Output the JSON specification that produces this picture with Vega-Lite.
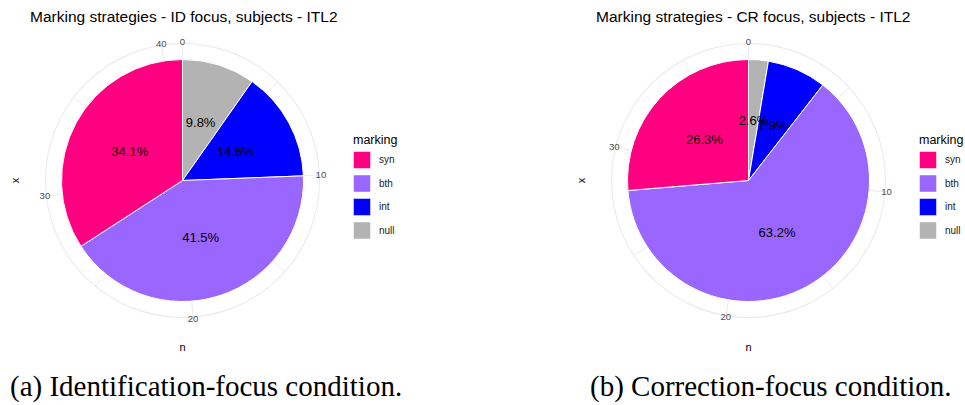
{
  "$schema": "https://vega.github.io/schema/vega-lite/v6.json",
  "padding": {"left": 0, "top": 10, "right": 0, "bottom": 0},
  "background": "white",
  "spacing": 163,
  "config": {"view": {"stroke": null}, "font": "Liberation Sans"},
  "resolve": {"scale": {"theta": "independent", "color": "independent"}, "legend": {"color": "independent"}},
  "hconcat": [
    {
      "title": {"text": "(a) Identification-focus condition.", "orient": "bottom", "anchor": "start", "dx": 10, "offset": 43.5, "font": "Liberation Serif", "fontSize": 29, "fontWeight": "normal", "color": "#000000", "baseline": "alphabetic"},
      "vconcat": [
        {
          "width": 365,
          "height": 269,
          "title": {"text": "Marking strategies - ID focus, subjects - ITL2", "anchor": "start", "frame": "group", "dx": 30, "offset": -0.5, "baseline": "alphabetic", "fontSize": 15.5, "fontWeight": "normal", "font": "Liberation Sans", "color": "#000000"},
          "layer": [
            {
              "data": {"values": [{"a": 0, "b": 41}]},
              "mark": {"type": "arc", "filled": false, "stroke": "#EBEBEB", "strokeWidth": 1.1, "radius": 137, "radius2": 0},
              "encoding": {"theta": {"field": "a", "type": "quantitative", "scale": {"domain": [0, 41], "nice": false}}, "theta2": {"field": "b"}}
            },
            {
              "data": {"values": [{"t": 0}, {"t": 10}, {"t": 20}, {"t": 30}, {"t": 40}]},
              "mark": {"type": "arc", "filled": false, "stroke": "#EBEBEB", "strokeWidth": 1.1, "radius": 137, "radius2": 0},
              "encoding": {"theta": {"field": "t", "type": "quantitative", "scale": {"domain": [0, 41], "nice": false}}, "theta2": {"field": "t"}}
            },
            {
              "data": {"values": [{"t": 5}, {"t": 15}, {"t": 25}, {"t": 35}]},
              "mark": {"type": "arc", "filled": false, "stroke": "#EBEBEB", "strokeWidth": 0.6, "radius": 137, "radius2": 0},
              "encoding": {"theta": {"field": "t", "type": "quantitative", "scale": {"domain": [0, 41], "nice": false}}, "theta2": {"field": "t"}}
            },
            {
              "data": {"values": [
                {"marking": "null", "n": 4, "label": "9.8%", "ord": 1},
                {"marking": "int", "n": 6, "label": "14.6%", "ord": 2},
                {"marking": "bth", "n": 17, "label": "41.5%", "ord": 3},
                {"marking": "syn", "n": 14, "label": "34.1%", "ord": 4}
              ]},
              "layer": [
                {
                  "mark": {"type": "arc", "radius": 121, "stroke": "white", "strokeWidth": 1},
                  "encoding": {
                    "theta": {"field": "n", "type": "quantitative", "stack": true, "scale": {"domain": [0, 41], "nice": false}},
                    "order": {"field": "ord", "type": "quantitative"},
                    "color": {"field": "marking", "type": "nominal", "scale": {"domain": ["syn", "bth", "int", "null"], "range": ["#FF0080", "#9966FF", "#0000FF", "#B3B3B3"]},
                      "legend": {"orient": "none", "legendX": 353, "legendY": 87.5, "title": "marking", "symbolType": "square", "symbolSize": 289, "symbolStrokeColor": "white", "symbolStrokeWidth": 0.5, "labelFontSize": 10, "labelColor": "#1A1A1A", "titleFontSize": 12.5, "titleFontWeight": "normal", "titleColor": "#000000", "rowPadding": 3.5, "titlePadding": 5, "labelOffset": 8, "padding": 0}}
                  }
                },
                {
                  "mark": {"type": "text", "radius": 60, "fontSize": 13, "color": "#000000"},
                  "encoding": {
                    "theta": {"field": "n", "type": "quantitative", "stack": true, "scale": {"domain": [0, 41], "nice": false}},
                    "order": {"field": "ord", "type": "quantitative"},
                    "detail": {"field": "marking", "type": "nominal"},
                    "text": {"field": "label", "type": "nominal"}
                  }
                }
              ]
            },
            {
              "data": {"values": [{"t": 0, "label": "0"}, {"t": 10, "label": "10"}, {"t": 20, "label": "20"}, {"t": 30, "label": "30"}, {"t": 40, "label": "40"}]},
              "mark": {"type": "text", "radius": 138.5, "fontSize": 9.6, "color": "#4D4D4D"},
              "encoding": {"theta": {"field": "t", "type": "quantitative", "scale": {"domain": [0, 41], "nice": false}}, "text": {"field": "label", "type": "nominal"}}
            },
            {
              "data": {"values": [{"label": "x"}]},
              "mark": {"type": "text", "radius": 167, "theta": 4.712389, "angle": 270, "fontSize": 11, "color": "#000000"},
              "encoding": {"text": {"field": "label", "type": "nominal"}}
            },
            {
              "data": {"values": [{"label": "n"}]},
              "mark": {"type": "text", "radius": 167, "theta": 3.141593, "fontSize": 11, "color": "#000000"},
              "encoding": {"text": {"field": "label", "type": "nominal"}}
            }
          ]
        }
      ]
    },
    {
      "title": {"text": "(b) Correction-focus condition.", "orient": "bottom", "anchor": "start", "dx": 24, "offset": 43.5, "font": "Liberation Serif", "fontSize": 29, "fontWeight": "normal", "color": "#000000", "baseline": "alphabetic"},
      "vconcat": [
        {
          "width": 365,
          "height": 269,
          "title": {"text": "Marking strategies - CR focus, subjects - ITL2", "anchor": "start", "frame": "group", "dx": 30, "offset": -0.5, "baseline": "alphabetic", "fontSize": 15.5, "fontWeight": "normal", "font": "Liberation Sans", "color": "#000000"},
          "layer": [
            {
              "data": {"values": [{"a": 0, "b": 38}]},
              "mark": {"type": "arc", "filled": false, "stroke": "#EBEBEB", "strokeWidth": 1.1, "radius": 137, "radius2": 0},
              "encoding": {"theta": {"field": "a", "type": "quantitative", "scale": {"domain": [0, 38], "nice": false}}, "theta2": {"field": "b"}}
            },
            {
              "data": {"values": [{"t": 0}, {"t": 10}, {"t": 20}, {"t": 30}]},
              "mark": {"type": "arc", "filled": false, "stroke": "#EBEBEB", "strokeWidth": 1.1, "radius": 137, "radius2": 0},
              "encoding": {"theta": {"field": "t", "type": "quantitative", "scale": {"domain": [0, 38], "nice": false}}, "theta2": {"field": "t"}}
            },
            {
              "data": {"values": [{"t": 5}, {"t": 15}, {"t": 25}, {"t": 35}]},
              "mark": {"type": "arc", "filled": false, "stroke": "#EBEBEB", "strokeWidth": 0.6, "radius": 137, "radius2": 0},
              "encoding": {"theta": {"field": "t", "type": "quantitative", "scale": {"domain": [0, 38], "nice": false}}, "theta2": {"field": "t"}}
            },
            {
              "data": {"values": [
                {"marking": "null", "n": 1, "label": "2.6%", "ord": 1},
                {"marking": "int", "n": 3, "label": "7.9%", "ord": 2},
                {"marking": "bth", "n": 24, "label": "63.2%", "ord": 3},
                {"marking": "syn", "n": 10, "label": "26.3%", "ord": 4}
              ]},
              "layer": [
                {
                  "mark": {"type": "arc", "radius": 121, "stroke": "white", "strokeWidth": 1},
                  "encoding": {
                    "theta": {"field": "n", "type": "quantitative", "stack": true, "scale": {"domain": [0, 38], "nice": false}},
                    "order": {"field": "ord", "type": "quantitative"},
                    "color": {"field": "marking", "type": "nominal", "scale": {"domain": ["syn", "bth", "int", "null"], "range": ["#FF0080", "#9966FF", "#0000FF", "#B3B3B3"]},
                      "legend": {"orient": "none", "legendX": 353, "legendY": 87.5, "title": "marking", "symbolType": "square", "symbolSize": 289, "symbolStrokeColor": "white", "symbolStrokeWidth": 0.5, "labelFontSize": 10, "labelColor": "#1A1A1A", "titleFontSize": 12.5, "titleFontWeight": "normal", "titleColor": "#000000", "rowPadding": 3.5, "titlePadding": 5, "labelOffset": 8, "padding": 0}}
                  }
                },
                {
                  "mark": {"type": "text", "radius": 60, "fontSize": 13, "color": "#000000"},
                  "encoding": {
                    "theta": {"field": "n", "type": "quantitative", "stack": true, "scale": {"domain": [0, 38], "nice": false}},
                    "order": {"field": "ord", "type": "quantitative"},
                    "detail": {"field": "marking", "type": "nominal"},
                    "text": {"field": "label", "type": "nominal"}
                  }
                }
              ]
            },
            {
              "data": {"values": [{"t": 0, "label": "0"}, {"t": 10, "label": "10"}, {"t": 20, "label": "20"}, {"t": 30, "label": "30"}]},
              "mark": {"type": "text", "radius": 138.5, "fontSize": 9.6, "color": "#4D4D4D"},
              "encoding": {"theta": {"field": "t", "type": "quantitative", "scale": {"domain": [0, 38], "nice": false}}, "text": {"field": "label", "type": "nominal"}}
            },
            {
              "data": {"values": [{"label": "x"}]},
              "mark": {"type": "text", "radius": 167, "theta": 4.712389, "angle": 270, "fontSize": 11, "color": "#000000"},
              "encoding": {"text": {"field": "label", "type": "nominal"}}
            },
            {
              "data": {"values": [{"label": "n"}]},
              "mark": {"type": "text", "radius": 167, "theta": 3.141593, "fontSize": 11, "color": "#000000"},
              "encoding": {"text": {"field": "label", "type": "nominal"}}
            }
          ]
        }
      ]
    }
  ]
}
